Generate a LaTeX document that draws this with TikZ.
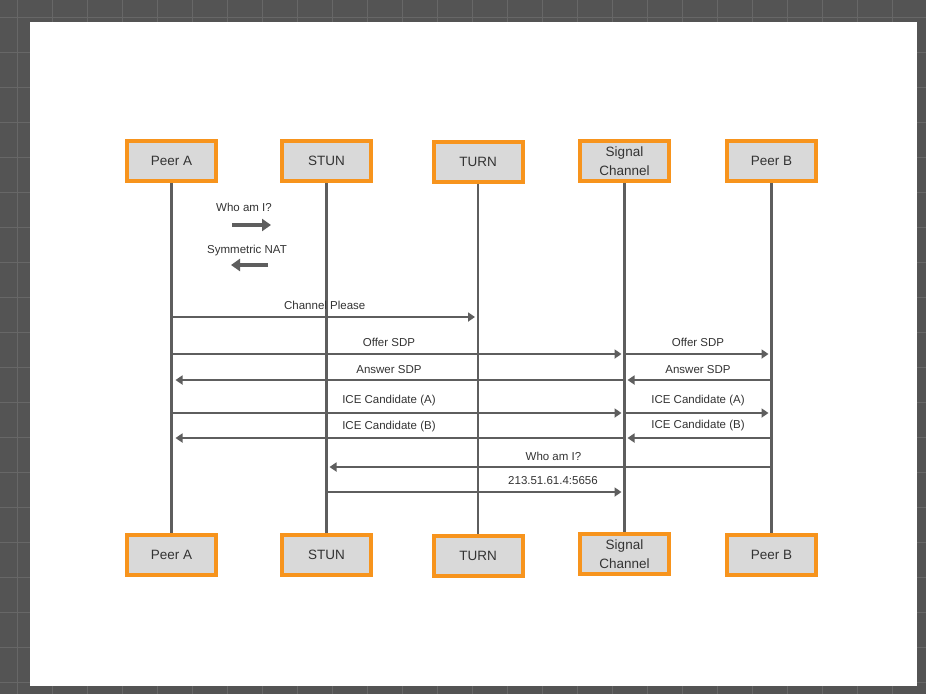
\documentclass[tikz,border=0pt]{standalone}
\usepackage{fontspec}
\setmainfont{Liberation Sans}
\usetikzlibrary{arrows.meta}

\definecolor{backdrop}{HTML}{545454}
\definecolor{gridline}{HTML}{676767}
\definecolor{boxorange}{HTML}{F7941D}
\definecolor{boxgray}{HTML}{D9D9D9}
\definecolor{inkgray}{HTML}{333333}
\definecolor{wiregray}{HTML}{5E5E5E}

\begin{document}
\begin{tikzpicture}[x=1pt,y=-1pt,
  actor/.style={draw=boxorange, line width=4pt, fill=boxgray,
    minimum width=89pt, minimum height=40pt, inner sep=0pt,
    text=inkgray, align=center, font=\fontsize{13.5}{19}\selectfont},
  lifeline/.style={draw=wiregray, line width=2.7pt},
  msg/.style={draw=wiregray, line width=2.2pt,
    -{Triangle[length=7pt,width=9pt]}, shorten >=3pt},
  bigmsg/.style={draw=wiregray, line width=4pt,
    -{Triangle[length=9pt,width=12pt]}},
  lbl/.style={text=inkgray, font=\fontsize{11.5}{13}\selectfont, inner sep=0pt}]

\useasboundingbox (0,0) rectangle (926,694);

% dark grid backdrop and white sheet
\fill[backdrop] (0,0) rectangle (926,694);
\foreach \k in {0,...,26}
  \draw[gridline, line width=1pt] ({17+35*\k},0) -- ({17+35*\k},694);
\foreach \k in {0,...,19}
  \draw[gridline, line width=1pt] (0,{17+35*\k}) -- (926,{17+35*\k});
\fill[white] (30,22) rectangle (917,686);

% participants, top row
\node[actor] (pa)   at (171.5,161) {Peer A};
\node[actor] (stun) at (326.5,161) {STUN};
\node[actor] (turn) at (478,161.5) {TURN};
\node[actor] (sig)  at (624.5,161) {Signal\\Channel};
\node[actor] (pb)   at (771.5,161) {Peer B};

% participants, bottom row
\node[actor] (pa2)   at (171.5,555) {Peer A};
\node[actor] (stun2) at (326.5,554.5) {STUN};
\node[actor] (turn2) at (478,555.5) {TURN};
\node[actor] (sig2)  at (624.5,554) {Signal\\Channel};
\node[actor] (pb2)   at (771.5,554.5) {Peer B};

% lifelines
\draw[lifeline] (pa.south)   -- (pa2.north);
\draw[lifeline] (stun.south) -- (stun2.north);
\draw[lifeline] (turn.south) -- (turn2.north);
\draw[lifeline] (sig.south)  -- (sig2.north);
\draw[lifeline] (pb.south)   -- (pb2.north);

% STUN query sketch
\coordinate (q1) at (232,225);
\coordinate (q2) at (271,225);
\coordinate (r1) at (268,265);
\coordinate (r2) at (231,265);
\node[lbl] (qlbl) at (244,207) {Who am I?};
\draw[bigmsg] (q1) -- (q2);
\node[lbl] (rlbl) at (247,251) {Symmetric NAT};
\draw[bigmsg] (r1) -- (r2);

% message exchange
\draw[msg] (pa |- 0,317) -- node[lbl, above=6pt] {Channel Please} (turn |- 0,317);

\draw[msg] (pa |- 0,354) -- node[lbl, pos=0.48, above=6pt] {Offer SDP} (sig |- 0,354);
\draw[msg] (sig |- 0,354) -- node[lbl, above=6pt] {Offer SDP} (pb |- 0,354);

\draw[msg, shorten >=4pt] (sig |- 0,380) -- node[lbl, pos=0.52, above=5pt] {Answer SDP} (pa |- 0,380);
\draw[msg] (pb |- 0,380) -- node[lbl, above=5pt] {Answer SDP} (sig |- 0,380);

\draw[msg] (pa |- 0,413) -- node[lbl, pos=0.48, above=6pt] {ICE Candidate (A)} (sig |- 0,413);
\draw[msg] (sig |- 0,413) -- node[lbl, above=6pt] {ICE Candidate (A)} (pb |- 0,413);

\draw[msg, shorten >=4pt] (sig |- 0,438) -- node[lbl, pos=0.52, above=5pt] {ICE Candidate (B)} (pa |- 0,438);
\draw[msg] (pb |- 0,438) -- node[lbl, above=6pt] {ICE Candidate (B)} (sig |- 0,438);

\draw[msg] (pb |- 0,467) -- node[lbl, pos=0.49, above=5pt] {Who am I?} (stun |- 0,467);
\draw[msg] (stun |- 0,492) -- node[lbl, pos=0.76, above=6pt] {213.51.61.4:5656} (sig |- 0,492);

\end{tikzpicture}
\end{document}
